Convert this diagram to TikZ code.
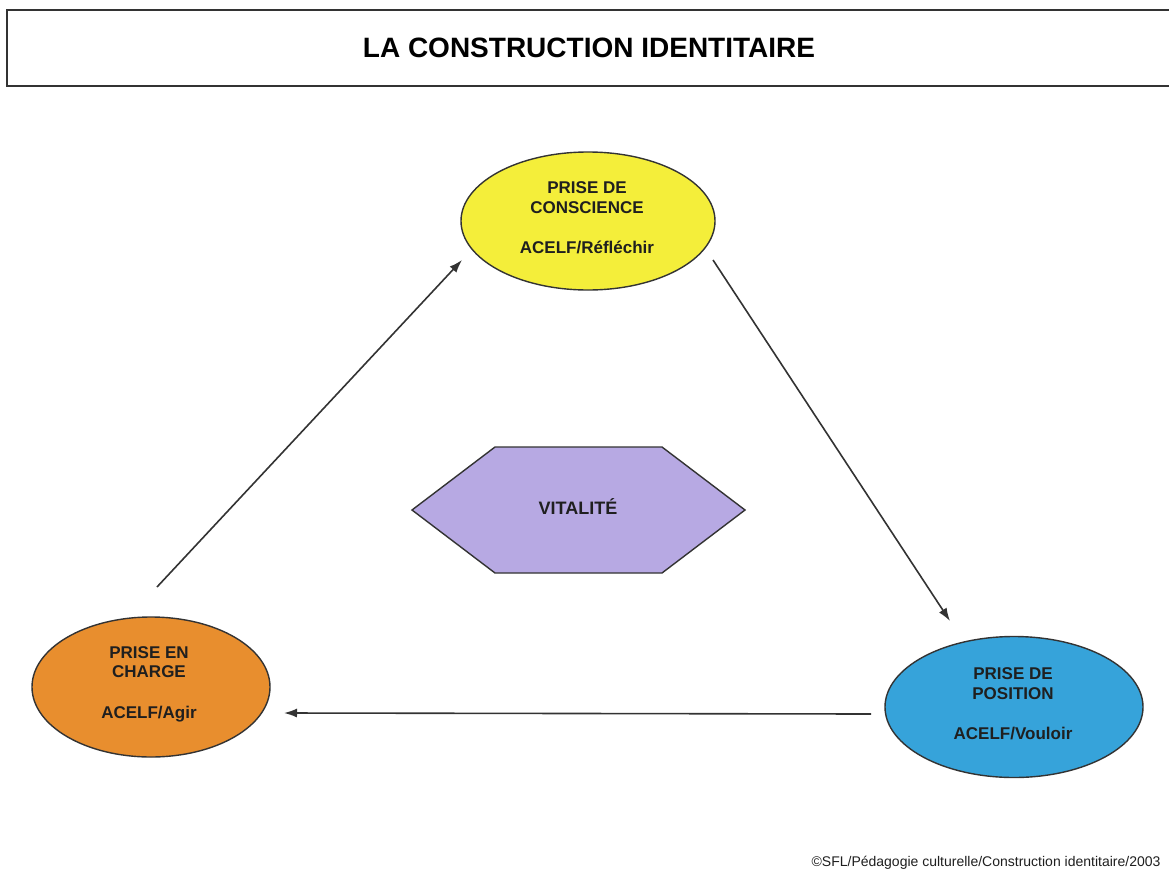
\documentclass[tikz,border=0pt]{standalone}
\usepackage{fontspec}
\setmainfont{Liberation Sans}
\usetikzlibrary{shapes.geometric,arrows.meta}
\definecolor{ylw}{HTML}{F4EE3A}
\definecolor{org}{HTML}{E88E2E}
\definecolor{blu}{HTML}{36A3DA}
\definecolor{lav}{HTML}{B7A9E3}
\definecolor{edge}{HTML}{333333}
\tikzset{
  oval/.style={ellipse, draw=edge, line width=1.4pt, inner sep=0pt},
  ovaltext/.style={align=center, font=\fontsize{17}{19.5}\selectfont\bfseries, text=black!88},
  conn/.style={draw=edge, line width=1.6pt, -{Latex[length=13pt,width=9pt]}},
}
\begin{document}
\begin{tikzpicture}[x=1pt,y=-1pt]
\useasboundingbox (0,0) rectangle (1169,875);
\fill[white] (0,0) rectangle (1169,875);
% title box
\draw[edge, line width=1.6pt] (1175,10) -- (7,10) -- (7,86) -- (1175,86);
\node (title) at (589,48) {\fontsize{28}{32}\selectfont\bfseries LA CONSTRUCTION IDENTITAIRE};
% ellipses
\node[oval, fill=ylw, minimum width=254pt, minimum height=138pt] (yel) at (588,221) {};
\node[ovaltext] (yelt) at (587,218) {PRISE DE\\CONSCIENCE\\[21pt]ACELF/Réfléchir};
\node[oval, fill=org, minimum width=238pt, minimum height=140pt] (ora) at (151,687) {};
\node[ovaltext] (orat) at (149,684) {PRISE EN\\CHARGE\\[21pt]ACELF/Agir};
\node[oval, fill=blu, minimum width=258pt, minimum height=141pt] (blue) at (1014,707) {};
\node[ovaltext] (bluet) at (1013,704) {PRISE DE\\POSITION\\[21pt]ACELF/Vouloir};
% hexagon
\draw[edge, line width=1.4pt, fill=lav] (412,510) -- (495,447) -- (662,447) -- (745,510) -- (662,573) -- (495,573) -- cycle;
\node[font=\fontsize{18}{20}\selectfont\bfseries, text=black!88] (vit) at (578,507) {VITALITÉ};
% connector ends
\coordinate (a1s) at (157,587);
\coordinate (a1e) at (462,260);
\coordinate (a2s) at (713,260);
\coordinate (a2e) at (950,621);
\coordinate (a3s) at (871,714);
\coordinate (a3e) at (284,713);
\draw[conn] (a1s) -- (a1e);
\draw[conn] (a2s) -- (a2e);
\draw[conn] (a3s) -- (a3e);
% footer
\node[anchor=east, font=\fontsize{14}{16}\selectfont, text=black!88] (foot) at (1164,863) {©SFL/Pédagogie culturelle/Construction identitaire/2003};
\end{tikzpicture}
\end{document}
